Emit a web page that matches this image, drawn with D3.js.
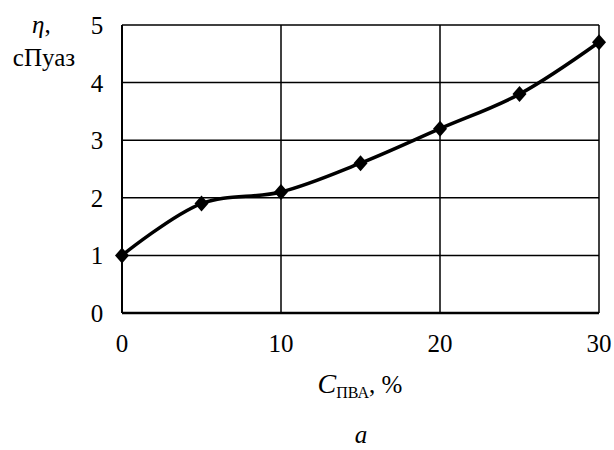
<!DOCTYPE html>
<html>
<head>
<meta charset="utf-8">
<script src="https://cdn.jsdelivr.net/npm/d3@7"></script>
<style>
  body { margin: 0; background: #fff; }
</style>
</head>
<body>
<svg id="chart" width="614" height="450"></svg>
<script>
// data
const conc = [0, 5, 10, 15, 20, 25, 30];
const visc = [1.0, 1.9, 2.1, 2.6, 3.2, 3.8, 4.7];
const xTicks = [0, 10, 20, 30];
const yTicks = [0, 1, 2, 3, 4, 5];

const margin = { top: 25, right: 15, bottom: 137, left: 122 },
      width = 614, height = 450;

const svg = d3.select('#chart')
  .style('font-family', "'Liberation Serif', 'Times New Roman', serif");

const sx = d3.scaleLinear().domain([0, 30])
  .range([margin.left, width - margin.right]);
const sy = d3.scaleLinear().domain([0, 5])
  .range([height - margin.bottom, margin.top]);

// grid ===========================================================
const grid = svg.append('g').attr('stroke', '#000').attr('stroke-width', 1.5);
grid.selectAll('line.h').data(yTicks.slice(1)).join('line')
  .attr('x1', sx(0)).attr('x2', sx(30))
  .attr('y1', d => sy(d)).attr('y2', d => sy(d));
grid.selectAll('line.v').data(xTicks.slice(1)).join('line')
  .attr('y1', sy(0)).attr('y2', sy(5))
  .attr('x1', d => sx(d)).attr('x2', d => sx(d));

// axes (left and bottom darker)
svg.append('line').attr('stroke', '#000').attr('stroke-width', 2)
  .attr('x1', sx(0)).attr('x2', sx(0)).attr('y1', sy(0)).attr('y2', sy(5));
svg.append('line').attr('stroke', '#000').attr('stroke-width', 2.5)
  .attr('x1', sx(0)).attr('x2', sx(30)).attr('y1', sy(0)).attr('y2', sy(0));

// tick labels
svg.append('g').selectAll('text').data(yTicks).join('text')
  .attr('x', sx(0) - 25).attr('y', d => sy(d) + 9)
  .attr('text-anchor', 'middle').style('font-size', '25px')
  .text(d => d);
svg.append('g').selectAll('text').data(xTicks).join('text')
  .attr('x', d => sx(d)).attr('y', sy(0) + 39)
  .attr('text-anchor', 'middle').style('font-size', '25px')
  .text(d => d);

// curve ==========================================================
const pts = conc.map((c, i) => [c, visc[i]]);
svg.append('path').datum(pts)
  .attr('fill', 'none').attr('stroke', '#000').attr('stroke-width', 3.5)
  .attr('d', d3.line().x(d => sx(d[0])).y(d => sy(d[1]))
    .curve(d3.curveCatmullRom.alpha(0.5)));

svg.append('g').selectAll('path').data(pts).join('path')
  .attr('transform', d => `translate(${sx(d[0])},${sy(d[1])})`)
  .attr('d', 'M0,-8L7,0L0,8L-7,0Z')
  .attr('fill', '#000');

// titles =========================================================
const yl = svg.append('g').style('font-size', '25px');
yl.append('text').attr('x', 32).attr('y', 33)
  .html('<tspan font-style="italic">η</tspan>,');
yl.append('text').attr('x', 44).attr('y', 66)
  .attr('text-anchor', 'middle').text('сПуаз');

const xl = svg.append('text').attr('x', 360).attr('y', 393)
  .attr('text-anchor', 'middle').style('font-size', '25px');
xl.append('tspan').attr('font-style', 'italic').style('font-size', '28px').text('C');
xl.append('tspan').attr('dy', 5).style('font-size', '16px').text('ПВА');
xl.append('tspan').attr('dy', -5).text(', %');

svg.append('text').attr('x', 361).attr('y', 443)
  .attr('text-anchor', 'middle').style('font-size', '25px')
  .attr('font-style', 'italic').text('a');
</script>
</body>
</html>
